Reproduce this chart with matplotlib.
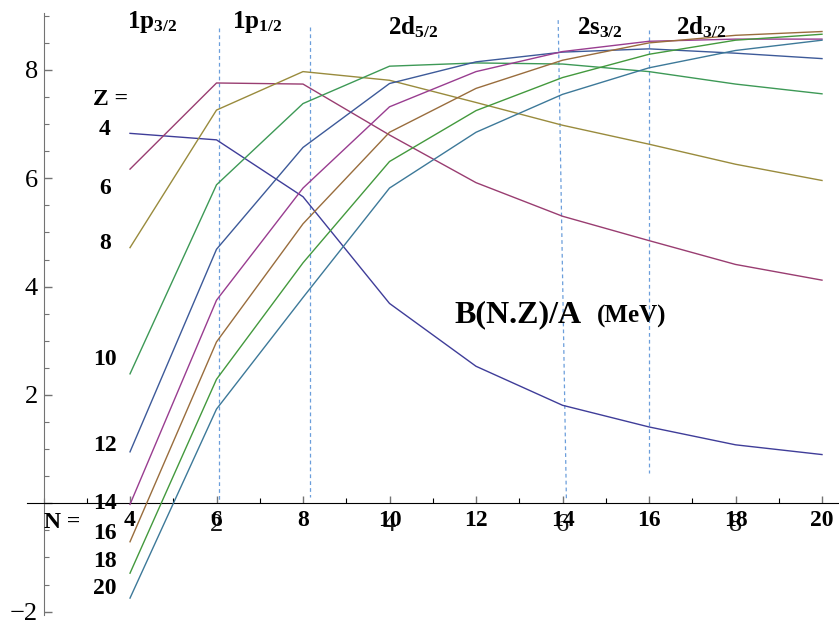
import matplotlib
matplotlib.use("Agg")
import matplotlib.pyplot as plt
from matplotlib.ticker import FixedLocator, MultipleLocator, NullFormatter

plt.rcParams['mathtext.fontset'] = 'custom'
plt.rcParams['mathtext.rm'] = 'Liberation Serif:bold'
plt.rcParams['mathtext.it'] = 'Liberation Serif:bold'
plt.rcParams['mathtext.bf'] = 'Liberation Serif:bold'

# ---- data ----
N_values = [4, 6, 8, 10, 12, 14, 16, 18, 20]
Z_values = [4, 6, 8, 10, 12, 14, 16, 18, 20]
B_Z4 = [6.83, 6.71, 5.66, 3.69, 2.53, 1.81, 1.41, 1.08, 0.90]
B_Z6 = [6.17, 7.76, 7.74, 6.80, 5.92, 5.30, 4.85, 4.41, 4.12]
B_Z8 = [4.72, 7.26, 7.97, 7.81, 7.40, 6.98, 6.63, 6.26, 5.96]
B_Z10 = [2.39, 5.88, 7.38, 8.07, 8.13, 8.11, 7.97, 7.74, 7.56]
B_Z12 = [0.95, 4.69, 6.57, 7.75, 8.15, 8.33, 8.39, 8.31, 8.21]
B_Z14 = [-0.02, 3.75, 5.82, 7.32, 7.97, 8.34, 8.53, 8.57, 8.57]
B_Z16 = [-0.71, 2.98, 5.16, 6.85, 7.66, 8.18, 8.50, 8.64, 8.71]
B_Z18 = [-1.29, 2.29, 4.44, 6.31, 7.25, 7.86, 8.29, 8.55, 8.66]
B_Z20 = [-1.75, 1.74, 3.80, 5.82, 6.85, 7.55, 8.04, 8.36, 8.55]
series = [B_Z4, B_Z6, B_Z8, B_Z10, B_Z12, B_Z14, B_Z16, B_Z18, B_Z20]

colors = [(0.247, 0.24, 0.6), (0.6, 0.24, 0.443), (0.6, 0.547, 0.24),
          (0.24, 0.6, 0.337), (0.24, 0.353, 0.6), (0.6, 0.24, 0.563),
          (0.6, 0.427, 0.24), (0.263, 0.6, 0.24), (0.24, 0.474, 0.6)]

# Z label positions (y in data units)
Z_label_y = [6.91, 5.82, 4.79, 2.65, 1.06, 0.0, -0.55, -1.07, -1.58]

# shell annotations
shell_labels = [r'$1p_{3/2}$', r'$1p_{1/2}$', r'$2d_{5/2}$', r'$2s_{3/2}$', r'$2d_{3/2}$']
shell_x = [3.93, 6.36, 9.96, 14.33, 16.62]
shell_y = [8.77, 8.77, 8.65, 8.65, 8.65]

# dashed shell-closure lines (x_top, y_top, x_bottom, y_bottom)
dash_x_top = [6.06, 8.16, 13.90, 16.00]
dash_y_top = [8.77, 8.79, 8.92, 8.74]
dash_x_bot = [6.06, 8.16, 14.09, 16.00]
dash_y_bot = [0.0, 0.11, 0.06, 0.56]

x_major = [4, 6, 8, 10, 12, 14, 16, 18, 20]
x_minor = list(range(2, 21))
y_major = [-2, 0, 2, 4, 6, 8]
y_labels = ['\u22122', '', '2', '4', '6', '8']
second_tick_pos = [6, 10, 14, 18]
second_tick_lab = ['2', '4', '6', '8']

serif = 'Liberation Serif'

fig = plt.figure(figsize=(8.39, 6.26), dpi=100)
ax = fig.add_axes([0, 0, 1, 1])
ax.set_facecolor('none')
ax.set_xlim(0.994, 20.393)
ax.set_ylim(-2.265, 9.292)

for ys, c in zip(series, colors):
    ax.plot(N_values, ys, color=c, lw=1.0, zorder=3)

for xt, yt, xb, yb in zip(dash_x_top, dash_y_top, dash_x_bot, dash_y_bot):
    ax.plot([xt, xb], [yt, yb], color=(0.42, 0.62, 0.86), lw=0.9,
            dashes=(3, 2.5), zorder=2)

# spines
for s in ['top', 'right']:
    ax.spines[s].set_visible(False)
ax.spines['left'].set_position(('data', 2))
ax.spines['left'].set_bounds(-2.06, 9.05)
ax.spines['left'].set_color('0.45')
ax.spines['bottom'].set_position(('data', 0))
ax.spines['bottom'].set_bounds(1.62, 20.393)
ax.spines['bottom'].set_color('black')

ax.yaxis.set_major_locator(FixedLocator(y_major))
ax.set_yticklabels(y_labels)
ax.yaxis.set_minor_locator(MultipleLocator(0.5))
ax.tick_params(axis='y', which='major', direction='in', length=6, width=1,
               color='0.45', pad=4, labelsize=19)
ax.tick_params(axis='y', which='minor', direction='in', length=3.5, width=0.8,
               color='0.45')
for lab in ax.get_yticklabels():
    lab.set_family(serif)

ax.xaxis.set_major_locator(FixedLocator(x_major))
ax.set_xticklabels([str(v) for v in x_major])
ax.xaxis.set_minor_locator(FixedLocator(x_minor))
ax.xaxis.set_minor_formatter(NullFormatter())
ax.tick_params(axis='x', which='major', direction='in', length=5, width=1,
               color='0.45', pad=5, labelsize=17)
ax.tick_params(axis='x', which='minor', direction='in', length=3.5, width=0.8,
               color='black')
for lab in ax.get_xticklabels():
    lab.set_family(serif)
    lab.set_fontweight('bold')

# second set of tick labels (overlaid, as in the original figure)
for p, t in zip(second_tick_pos, second_tick_lab):
    ax.text(p, -0.40, t, family=serif, fontsize=19, ha='center', va='center',
            color='0.1', zorder=1)

ax.text(2.0, -0.36, 'N =', family=serif, fontweight='bold', fontsize=17,
        ha='left', va='center')
ax.text(3.54, 7.45, 'Z =', family=serif, fontweight='bold', fontsize=17,
        ha='center', va='center')
for z, yl in zip(Z_values, Z_label_y):
    ax.text(3.42, yl, str(z), family=serif, fontweight='bold', fontsize=17,
            ha='center', va='center')

for lab, xs, ys in zip(shell_labels, shell_x, shell_y):
    ax.text(xs, ys, lab, fontsize=18, ha='left', va='baseline')

ax.text(11.51, 3.34, 'B(N.Z)/A', family=serif, fontweight='bold', fontsize=23,
        ha='left', va='baseline')
ax.text(14.80, 3.34, '(MeV)', family=serif, fontweight='bold', fontsize=18,
        ha='left', va='baseline')

fig.savefig('out.png', dpi=100)
